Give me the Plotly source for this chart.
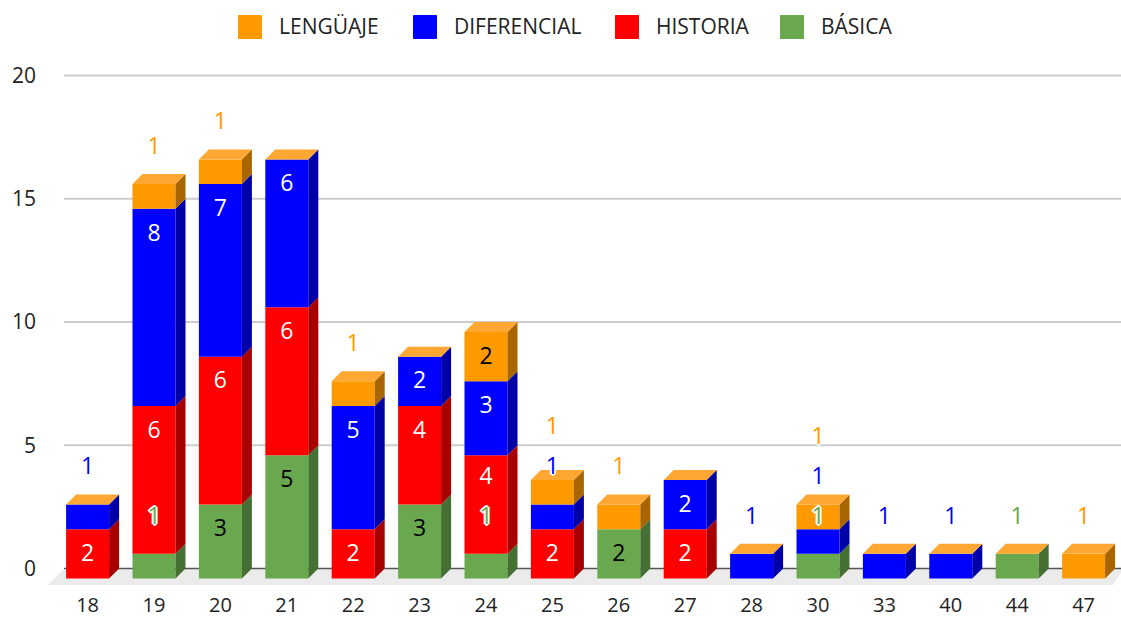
import plotly.graph_objects as go

edades = ["18","19","20","21","22","23","24","25","26","27","28","30","33","40","44","47"]
basica      = [0,1,3,5,0,3,1,0,2,0,0,1,0,0,1,0]
historia    = [2,6,6,6,2,4,4,2,0,2,0,0,0,0,0,0]
diferencial = [1,8,7,6,5,2,3,1,0,2,1,1,1,1,0,0]
lenguaje    = [0,1,1,0,1,0,2,1,1,0,0,1,0,0,0,1]
y_ticks = [0,5,10,15,20]

W, H = 1121, 618
ML, MT, PB = 40, 50, 591
PX_X, PX_Y = 66.4, 24.65
ZERO_PX = 568.5
X0_PX = 87.6
FONT = "Open Sans"
TOP_COLOR = "#ffa733"

xmin = -(X0_PX - ML) / PX_X
xmax = (W - ML) / PX_X + xmin
ymax = (ZERO_PX - MT) / PX_Y
ymin = (ZERO_PX - PB) / PX_Y
DX, DY = 10 / PX_X, 10 / PX_Y
HALF = 21.5 / PX_X

series = [
    ("BÁSICA", basica, "#6aa84f", "#466f34", "#000000"),
    ("HISTORIA", historia, "#ff0000", "#a80000", "#ffffff"),
    ("DIFERENCIAL", diferencial, "#0000ff", "#0000a8", "#ffffff"),
    ("LENGÜAJE", lenguaje, "#ff9900", "#a86500", "#000000"),
]

fig = go.Figure()
n = len(edades)
idx = list(range(n))
cum = [0] * n
labels = {}
last_label_px = [None] * n
HALO = "2px 0 0 #fff,-2px 0 0 #fff,0 2px 0 #fff,0 -2px 0 #fff,1px 1px 0 #fff,-1px -1px 0 #fff,1px -1px 0 #fff,-1px 1px 0 #fff"

for name, vals, col, side, txt in series:
    bases = [c - DY for c in cum]
    fig.add_trace(go.Bar(x=idx, y=vals, base=bases, width=HALF * 2, name=name,
                         marker=dict(color=col, line=dict(width=0)), hoverinfo="skip", showlegend=False))
    sx, sy = [], []
    for i, v in enumerate(vals):
        if v:
            b, t = bases[i], bases[i] + v
            r = i + HALF
            sx += [r, r + DX, r + DX, r, r, None]
            sy += [b, b + DY, t + DY, t, b, None]
            top_px = ZERO_PX - t * PX_Y
            want = top_px - 36 if v == 1 else top_px + 26
            if last_label_px[i] is not None and last_label_px[i] - want < 40:
                want = last_label_px[i] - 40
            last_label_px[i] = want
            key = (col if v == 1 else txt, v == 1)
            d = labels.setdefault(key, ([], [], []))
            d[0].append(i)
            d[1].append((ZERO_PX - want) / PX_Y)
            d[2].append(str(v))
    fig.add_trace(go.Scatter(x=sx, y=sy, mode="lines", fill="toself", fillcolor=side,
                             line=dict(width=0), hoverinfo="skip", showlegend=False))
    cum = [c + v for c, v in zip(cum, vals)]

tx, ty = [], []
for i, c in enumerate(cum):
    t = c - DY
    l, r = i - HALF, i + HALF
    tx += [l, l + DX, r + DX, r, l, None]
    ty += [t, t + DY, t + DY, t, t, None]
fig.add_trace(go.Scatter(x=tx, y=ty, mode="lines", fill="toself", fillcolor=TOP_COLOR,
                         line=dict(width=0), hoverinfo="skip", showlegend=False))

for (color, outside), (lx, ly, lt) in labels.items():
    font = dict(family=FONT, size=23, color=color)
    if outside:
        font["shadow"] = HALO
    fig.add_trace(go.Scatter(x=lx, y=ly, text=lt, mode="text", textposition="middle center",
                             textfont=font, hoverinfo="skip", showlegend=False))

x_left = xmin + (64 - ML) / PX_X
shapes = [dict(type="path", layer="below", xref="x", yref="y", line=dict(width=0), fillcolor="#ebebeb",
               path=f"M {x_left - 16 / PX_X} {-16.5 / PX_Y} L {x_left} 0 L {xmax} 0 L {xmax} {-4 / PX_Y} L {xmax - 8 / PX_X} {-16.5 / PX_Y} Z")]
for v in y_ticks:
    shapes.append(dict(type="line", layer="below", xref="x", yref="y", x0=x_left, x1=xmax, y0=v, y1=v,
                       line=dict(color="#555555" if v == 0 else "#cccccc", width=2 if v else 1.6)))

annotations = []
PW, PH = W - ML, PB - MT
legend_items = [("LENGÜAJE", "#ff9900", 238), ("DIFERENCIAL", "#0000ff", 413),
                ("HISTORIA", "#ff0000", 615), ("BÁSICA", "#6aa84f", 780)]
for name, col, px in legend_items:
    shapes.append(dict(type="rect", xref="paper", yref="paper", line=dict(color=col, width=1),
                       fillcolor=col, x0=(px + .5 - ML) / PW, x1=(px + 23.5 - ML) / PW,
                       y0=(PB - 38.5) / PH, y1=(PB - 15.5) / PH))
    annotations.append(dict(xref="paper", yref="paper", x=(px + 38.5 - ML) / PW, y=(PB - 26) / PH,
                            text=name, showarrow=False, xanchor="left", yanchor="middle",
                            font=dict(family=FONT, size=21, color="#222222")))

fig.update_layout(
    width=W, height=H, autosize=False, barmode="overlay", plot_bgcolor="#ffffff", paper_bgcolor="#ffffff",
    margin=dict(l=ML, r=0, t=MT, b=H - PB, pad=0, autoexpand=False), showlegend=False, shapes=shapes, annotations=annotations,
    xaxis=dict(range=[xmin, xmax], tickmode="array", tickvals=idx, ticktext=edades, showgrid=False,
               zeroline=False, showline=False, ticks="", fixedrange=True, automargin=False,
               tickfont=dict(family=FONT, size=20, color="#222222")),
    yaxis=dict(range=[ymin, ymax], tickmode="array", tickvals=y_ticks, showgrid=False, zeroline=False,
               showline=False, ticks="", fixedrange=True, ticklabelstandoff=3, automargin=False,
               tickfont=dict(family=FONT, size=21, color="#222222")),
    font=dict(family=FONT),
)
fig.write_html("out.html", config={"displayModeBar": False},
               post_script="document.documentElement.style.margin='0';document.body.style.margin='0';")
